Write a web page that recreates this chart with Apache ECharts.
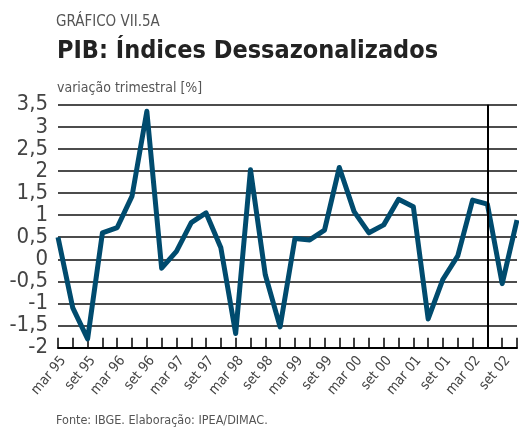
<!DOCTYPE html>
<html><head><meta charset="utf-8">
<script src="https://cdn.jsdelivr.net/npm/echarts@6/dist/echarts.min.js"></script>
<style>html,body{margin:0;padding:0;background:#fff}#c{width:519px;height:429px}</style>
</head><body><div id="c"></div>
<script>
var quarters = ['mar 95','jun 95','set 95','dez 95','mar 96','jun 96','set 96','dez 96',
  'mar 97','jun 97','set 97','dez 97','mar 98','jun 98','set 98','dez 98',
  'mar 99','jun 99','set 99','dez 99','mar 00','jun 00','set 00','dez 00',
  'mar 01','jun 01','set 01','dez 01','mar 02','jun 02','set 02','dez 02'];
var pib = [0.5,-1.1,-1.8,0.6,0.72,1.43,3.35,-0.2,
  0.18,0.83,1.05,0.26,-1.68,2.03,-0.35,-1.53,
  0.47,0.44,0.66,2.08,1.08,0.6,0.78,1.36,
  1.19,-1.35,-0.45,0.08,1.34,1.25,-0.55,0.89];
var markerQuarter = 'jun 02';
var yTicks = {min:-2, max:3.5, step:0.5};
var F = "'Liberation Sans Narrow','DejaVu Sans Condensed','Roboto Condensed',sans-serif";
function txt(s, x, y, size, weight, color){
  return {type:'text', x:x, y:y, silent:true,
    style:{text:s, font: weight+' '+size+'px '+F, fill:color, textAlign:'left', textVerticalAlign:'middle'}};
}
var chart = echarts.init(document.getElementById('c'));
chart.setOption({
  animation:false,
  backgroundColor:'#fff',
  graphic:[
    txt('GRÁFICO VII.5A', 56, 22, 15, 'normal', '#555'),
    txt('PIB: Índices Dessazonalizados', 57, 51.5, 25, 'bold', '#222'),
    txt('variação trimestral [%]', 57, 88, 14, 'normal', '#555'),
    txt('Fonte: IBGE. Elaboração: IPEA/DIMAC.', 56, 421, 12.5, 'normal', '#555')
  ],
  grid:{left:58, right:2, top:104.7, bottom:81.3},
  xAxis:{
    type:'category', data:quarters, boundaryGap:false,
    axisLine:{show:true, onZero:false, lineStyle:{color:'#000', width:2}},
    axisTick:{show:true, inside:true, length:10, interval:0, lineStyle:{color:'#000', width:1.5}},
    axisLabel:{interval:1, rotate:50, margin:6, verticalAlign:'top', fontFamily:F, fontSize:14, color:'#444'},
    splitLine:{show:false}
  },
  yAxis:{
    type:'value', min:yTicks.min, max:yTicks.max, interval:yTicks.step,
    axisLine:{show:false}, axisTick:{show:false},
    axisLabel:{margin:10, showMinLabel:true, showMaxLabel:true, fontFamily:F, fontSize:22, color:'#444',
      formatter:function(v){return String(v).replace('.',',');}},
    splitLine:{show:true, lineStyle:{color:'#111', width:1.5}}
  },
  series:[{
    type:'line', data:pib, symbol:'none',
    lineStyle:{color:'#004b6e', width:5, join:'round'},
    markLine:{symbol:'none', silent:true, label:{show:false},
      lineStyle:{color:'#000', width:2, type:'solid'},
      data:[{xAxis:markerQuarter}]}
  }]
});
</script></body></html>
